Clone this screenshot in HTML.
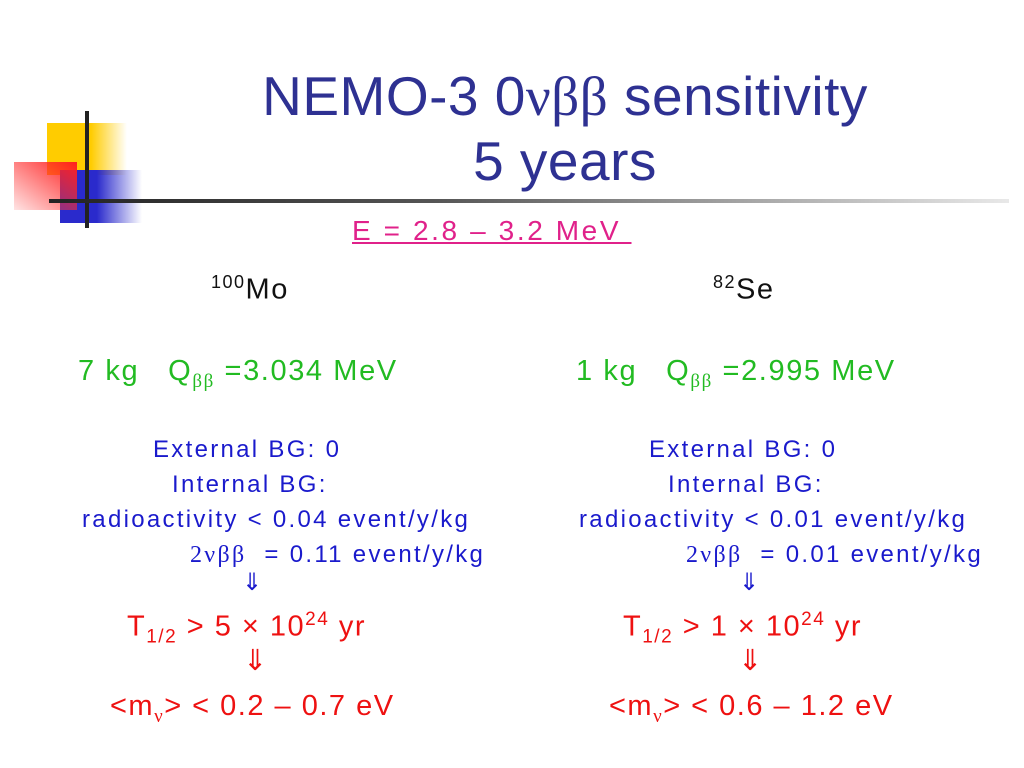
<!DOCTYPE html>
<html><head><meta charset="utf-8"><style>
body{margin:0;width:1024px;height:768px;background:#fff;position:relative;overflow:hidden;font-family:"Liberation Sans",sans-serif}
.a{position:absolute;white-space:nowrap}
.t{color:#2e3192;font-size:55px;text-align:center;width:800px;left:165px;letter-spacing:0.5px}
.g{color:#22bb22;font-size:29px;letter-spacing:1.6px}
.b{color:#1a1acc;font-size:24px;letter-spacing:2.3px}
.r{color:#ee1111;font-size:29px;letter-spacing:1.5px}
.k{color:#111;font-size:29px;letter-spacing:1.5px}
.gr{font-family:"Liberation Serif",serif}
</style></head><body>
<div>
<div class="a" style="left:47px;top:123px;width:80px;height:52px;background:linear-gradient(to right,#ffcc00 55%,rgba(255,204,0,0))"></div>
<div class="a" style="left:60px;top:170px;width:82px;height:53px;background:linear-gradient(to right,#2a2acc 45%,rgba(42,42,204,0))"></div>
<div class="a" style="left:14px;top:162px;width:63px;height:48px;background:linear-gradient(to bottom left,#ff2020,rgba(255,120,120,0.2))"></div>
<div class="a" style="left:85px;top:111px;width:4px;height:117px;background:#222"></div>
<div class="a" style="left:49px;top:199px;width:960px;height:4px;background:linear-gradient(to right,#222,#555 40%,rgba(180,180,180,0.3))"></div>
</div>
<div class="a t" style="top:64px">NEMO-3 0<span class="gr">νββ</span> sensitivity</div>
<div class="a t" style="top:129px">5 years</div>
<div class="a" style="left:352px;top:215px;font-size:28px;letter-spacing:2.6px;color:#e0218a;text-decoration:underline">E = 2.8 – 3.2 MeV&nbsp;</div>
<div class="a k" style="left:211px;top:272px"><sup style="font-size:18px">100</sup>Mo</div>
<div class="a k" style="left:713px;top:272px"><sup style="font-size:18px">82</sup>Se</div>
<div class="a g" style="left:78px;top:355px">7 kg &nbsp;&nbsp;Q<sub class="gr" style="font-size:19px">ββ</sub> =3.034 MeV</div>
<div class="a g" style="left:576px;top:355px">1 kg &nbsp;&nbsp;Q<sub class="gr" style="font-size:19px">ββ</sub> =2.995 MeV</div>
<div>
<div class="a b" style="left:153px;top:436px">External BG: 0</div>
<div class="a b" style="left:172px;top:471px">Internal BG:</div>
<div class="a b" style="left:82px;top:506px">radioactivity &lt; 0.04 event/y/kg</div>
<div class="a b" style="left:190px;top:541px"><span class="gr">2νββ</span> &nbsp;= 0.11 event/y/kg</div>
<div class="a b gr" style="left:242px;top:568px">⇓</div>
</div>
<div>
<div class="a b" style="left:649px;top:436px">External BG: 0</div>
<div class="a b" style="left:668px;top:471px">Internal BG:</div>
<div class="a b" style="left:579px;top:506px">radioactivity &lt; 0.01 event/y/kg</div>
<div class="a b" style="left:686px;top:541px"><span class="gr">2νββ</span> &nbsp;= 0.01 event/y/kg</div>
<div class="a b gr" style="left:739px;top:568px">⇓</div>
</div>
<div class="a r" style="left:127px;top:609px">T<sub style="font-size:19px">1/2</sub> &gt; 5 × 10<sup style="font-size:19px">24</sup> yr</div>
<div class="a r" style="left:623px;top:609px">T<sub style="font-size:19px">1/2</sub> &gt; 1 × 10<sup style="font-size:19px">24</sup> yr</div>
<div class="a r gr" style="left:243px;top:643px">⇓</div>
<div class="a r gr" style="left:738px;top:643px">⇓</div>
<div class="a r" style="left:110px;top:690px">&lt;m<sub class="gr" style="font-size:19px">ν</sub>&gt; &lt; 0.2 – 0.7 eV</div>
<div class="a r" style="left:609px;top:690px">&lt;m<sub class="gr" style="font-size:19px">ν</sub>&gt; &lt; 0.6 – 1.2 eV</div>
</body></html>
